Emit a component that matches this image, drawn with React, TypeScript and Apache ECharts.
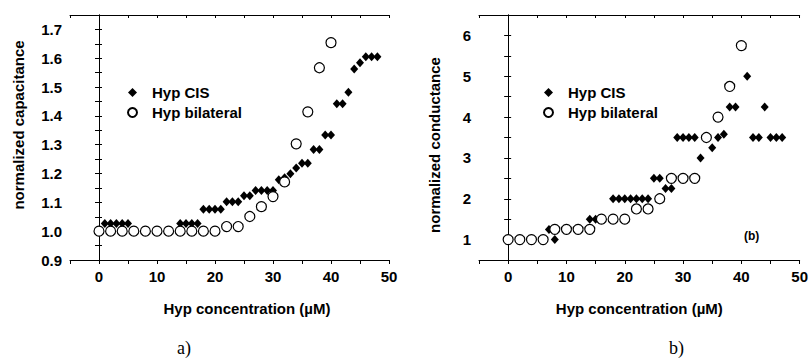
import React, { useEffect, useRef } from "react";
import * as echarts from "echarts";

// ---- data ----
const capCisX = [1, 2, 3, 4, 5, 14, 15, 16, 17, 18, 19, 20, 21, 22, 23, 24, 25, 26, 27, 28, 29, 30, 31, 32, 33, 34, 35, 36, 37, 38, 39, 40, 41, 42, 43, 44, 45, 46, 47, 48];
const capCisY = [1.027, 1.027, 1.027, 1.027, 1.027, 1.027, 1.027, 1.027, 1.027, 1.076, 1.076, 1.076, 1.076, 1.102, 1.102, 1.102, 1.123, 1.123, 1.141, 1.141, 1.141, 1.141, 1.178, 1.185, 1.199, 1.219, 1.236, 1.236, 1.283, 1.283, 1.334, 1.334, 1.442, 1.442, 1.482, 1.563, 1.584, 1.605, 1.605, 1.605];
const capBilX = [0, 2, 4, 6, 8, 10, 12, 14, 16, 18, 20, 22, 24, 26, 28, 30, 32, 34, 36, 38, 40];
const capBilY = [1.0, 1.0, 1.0, 1.0, 1.0, 1.0, 1.0, 1.0, 1.0, 1.0, 1.0, 1.016, 1.016, 1.051, 1.085, 1.12, 1.171, 1.303, 1.414, 1.567, 1.654];

const conCisX = [7, 8, 14, 15, 18, 19, 20, 21, 22, 23, 24, 25, 26, 27, 28, 29, 30, 31, 32, 33, 35, 36, 37, 38, 39, 41, 42, 43, 44, 45, 46, 47];
const conCisY = [1.25, 1.0, 1.5, 1.5, 2.0, 2.0, 2.0, 2.0, 2.0, 2.0, 2.0, 2.5, 2.5, 2.25, 2.25, 3.5, 3.5, 3.5, 3.5, 3.0, 3.25, 3.5, 3.58, 4.25, 4.25, 5.0, 3.5, 3.5, 4.25, 3.5, 3.5, 3.5];
const conBilX = [0, 2, 4, 6, 8, 10, 12, 14, 16, 18, 20, 22, 24, 26, 28, 30, 32, 34, 36, 38, 40];
const conBilY = [1.0, 1.0, 1.0, 1.0, 1.25, 1.25, 1.25, 1.25, 1.5, 1.5, 1.5, 1.75, 1.75, 2.0, 2.5, 2.5, 2.5, 3.5, 4.0, 4.75, 5.75];

const seriesNames = ["Hyp CIS", "Hyp bilateral"];
const xTitle = "Hyp concentration (\u00b5M)";
const yTitles = ["normalized capacitance", "normalized conductance"];
const panelCaptions = ["a)", "b)"];
const xTickLabels = [0, 10, 20, 30, 40, 50];

const FONT = "Arial, 'Liberation Sans', sans-serif";
const zip = (xs: number[], ys: number[]) => xs.map((x, i) => [x, ys[i]]);

export default function App() {
  const ref = useRef<HTMLDivElement>(null);
  useEffect(() => {
    if (!ref.current) return;
    const chart = echarts.init(ref.current, undefined, { renderer: "svg" });

    const axisLine = { show: true, lineStyle: { color: "#000", width: 1 } };
    const xMain = (grid: number) => ({
      type: "value", gridIndex: grid, min: -5, max: 50, interval: 5,
      position: "bottom",
      axisLine,
      axisTick: { show: true, inside: false, length: 4, lineStyle: { color: "#000" } },
      axisLabel: {
        margin: 9, fontFamily: FONT, fontWeight: "bold", fontSize: 15, color: "#000",
        formatter: (v: number) => (xTickLabels.indexOf(v) >= 0 ? String(v) : ""),
      },
      splitLine: { show: false },
      name: xTitle, nameLocation: "middle", nameGap: 41,
      nameTextStyle: {
        fontFamily: FONT, fontWeight: "bold", fontSize: 15, color: "#000",
        padding: grid === 0 ? [0, 0, 0, 35] : [0, 0, 0, 0],
      },
    });
    const xTop = (grid: number) => ({
      type: "value", gridIndex: grid, min: -5, max: 50, interval: 5, position: "top",
      axisLine, axisTick: { show: true, inside: true, length: 3, lineStyle: { color: "#000" } },
      axisLabel: { show: false }, splitLine: { show: false },
    });

    const isMult = (v: number, step: number) => Math.abs(v / step - Math.round(v / step)) < 1e-6;
    const legendText = { fontFamily: FONT, fontWeight: "bold", fontSize: 15, color: "#000", padding: [0, 0, 0, 10] };

    const option: any = {
      animation: false,
      backgroundColor: "#fff",
      grid: [
        { left: 70, right: 422, top: 15, bottom: 101 },
        { left: 479, right: 8, top: 15, bottom: 101 },
      ],
      xAxis: [xMain(0), xTop(0), xMain(1), xTop(1)],
      yAxis: [
        {
          type: "value", gridIndex: 0, min: 0.9, max: 1.75, interval: 0.05, position: "left",
          axisLine, axisTick: { show: true, inside: false, length: 4, lineStyle: { color: "#000" } },
          axisLabel: {
            margin: 8, fontFamily: FONT, fontWeight: "bold", fontSize: 15, color: "#000",
            formatter: (v: number) => (isMult(v, 0.1) && v < 1.72 ? v.toFixed(1) : ""),
          },
          splitLine: { show: false },
          name: yTitles[0], nameLocation: "middle", nameRotate: 90, nameGap: 44,
          nameTextStyle: { fontFamily: FONT, fontWeight: "bold", fontSize: 15, color: "#000", padding: [0, 0, 0, 25] },
        },
        {
          type: "value", gridIndex: 0, min: 0.9, max: 1.75, interval: 0.05, position: "right",
          axisLine, axisTick: { show: true, inside: false, length: 3, lineStyle: { color: "#000" } },
          axisLabel: { show: false }, splitLine: { show: false },
        },
        {
          type: "value", gridIndex: 1, min: 0.5, max: 6.5, interval: 0.5, position: "left",
          axisLine, axisTick: { show: true, inside: false, length: 4, lineStyle: { color: "#000" } },
          axisLabel: {
            margin: 8, fontFamily: FONT, fontWeight: "bold", fontSize: 15, color: "#000",
            formatter: (v: number) => (isMult(v, 1) ? String(Math.round(v)) : ""),
          },
          splitLine: { show: false },
          name: yTitles[1], nameLocation: "middle", nameRotate: 90, nameGap: 37,
          nameTextStyle: { fontFamily: FONT, fontWeight: "bold", fontSize: 15, color: "#000", padding: [0, 15, 0, 0] },
        },
        {
          type: "value", gridIndex: 1, min: 0.5, max: 6.5, interval: 0.5, position: "right",
          axisLine, axisTick: { show: true, inside: false, length: 3, lineStyle: { color: "#000" } },
          axisLabel: { show: false }, splitLine: { show: false },
        },
      ],
      legend: [
        {
          left: 122, top: 80, orient: "vertical", itemWidth: 9, itemHeight: 9, itemGap: 5,
          data: seriesNames, textStyle: legendText,
        },
        {
          left: 538, top: 80, orient: "vertical", itemWidth: 9, itemHeight: 9, itemGap: 5,
          data: seriesNames, textStyle: legendText,
        },
      ],
      series: [
        {
          name: seriesNames[0], type: "scatter", xAxisIndex: 0, yAxisIndex: 0,
          symbol: "diamond", symbolSize: [8, 9], itemStyle: { color: "#000", opacity: 1 },
          data: zip(capCisX, capCisY),
        },
        {
          name: seriesNames[1], type: "scatter", xAxisIndex: 0, yAxisIndex: 0,
          symbol: "circle", symbolSize: 10,
          itemStyle: { color: "#fff", borderColor: "#000", borderWidth: 1.2, opacity: 1 },
          data: zip(capBilX, capBilY),
        },
        {
          name: seriesNames[0], type: "scatter", xAxisIndex: 2, yAxisIndex: 2,
          symbol: "diamond", symbolSize: [8, 9], itemStyle: { color: "#000", opacity: 1 },
          data: zip(conCisX, conCisY),
        },
        {
          name: seriesNames[1], type: "scatter", xAxisIndex: 2, yAxisIndex: 2,
          symbol: "circle", symbolSize: 10,
          itemStyle: { color: "#fff", borderColor: "#000", borderWidth: 1.2, opacity: 1 },
          data: zip(conBilX, conBilY),
        },
      ],
      graphic: [
        {
          type: "text", left: 744, top: 230,
          style: { text: "(b)", font: `bold 12px ${FONT}`, fill: "#000" },
        },
        {
          type: "text", left: 177, top: 339,
          style: { text: panelCaptions[0], font: "18px 'Times New Roman', 'Liberation Serif', serif", fill: "#000" },
        },
        {
          type: "text", left: 669, top: 339,
          style: { text: panelCaptions[1], font: "18px 'Times New Roman', 'Liberation Serif', serif", fill: "#000" },
        },
      ],
    };
    chart.setOption(option);
    return () => chart.dispose();
  }, []);
  return (
    <div
      ref={ref}
      style={{ position: "fixed", left: 0, top: 0, width: 811, height: 361, background: "#fff" }}
    />
  );
}
